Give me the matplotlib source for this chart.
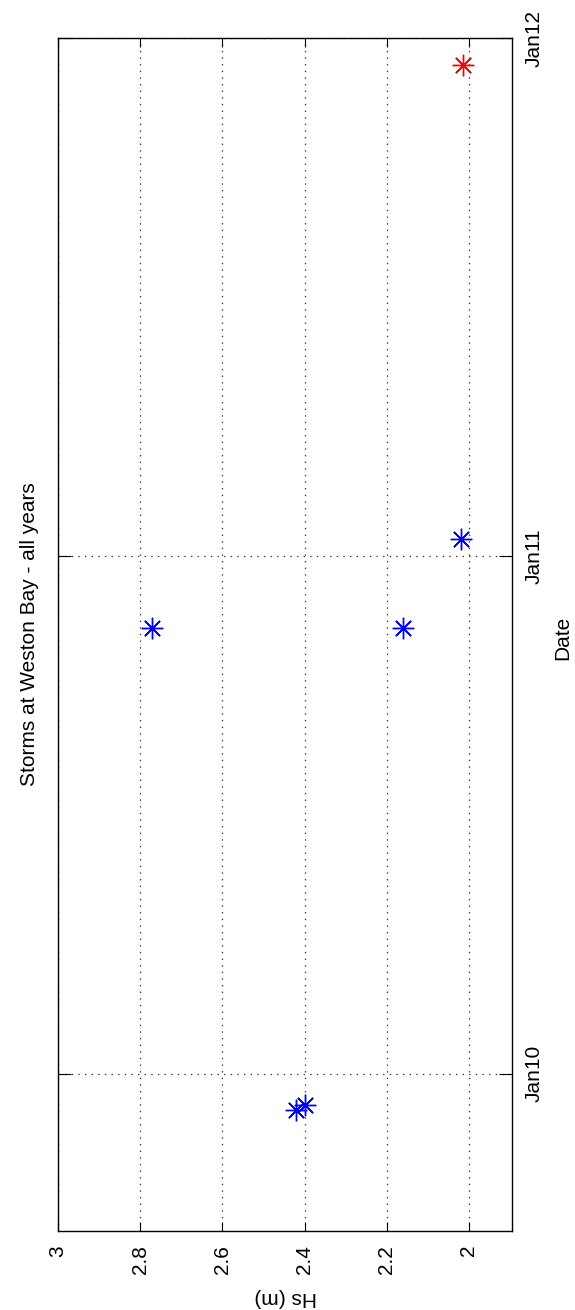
import matplotlib
matplotlib.use('Agg')
import matplotlib.pyplot as plt
import matplotlib.dates as mdates
from datetime import datetime

plt.rcParams['font.family'] = ['Liberation Sans', 'DejaVu Sans']

# ---- data ----
storm_dates = ['2009-12-06', '2009-12-10', '2010-11-11', '2010-11-11', '2011-01-13']
storm_hs = [2.42, 2.40, 2.77, 2.16, 2.02]
latest_dates = ['2011-12-13']
latest_hs = [2.015]
date_ticks = ['2010-01-01', '2011-01-01', '2012-01-01']
date_ticklabels = ['Jan10', 'Jan11', 'Jan12']
hs_ticks = [2.0, 2.2, 2.4, 2.6, 2.8, 3.0]
hs_ticklabels = ['2', '2.2', '2.4', '2.6', '2.8', '3']
date_limits = ['2009-09-12', '2012-01-01']
hs_limits = [3.0, 1.895]

title_text = 'Storms at Weston Bay - all years'
xlabel_text = 'Date'
ylabel_text = 'Hs (m)'

def to_num(lst):
    return [mdates.date2num(datetime.strptime(d, '%Y-%m-%d')) for d in lst]

W, H = 575, 1310
fig = plt.figure(figsize=(W / 100, H / 100), dpi=100)
ax = fig.add_axes([58 / W, 1 - 1231 / H, (512 - 58) / W, (1231 - 38) / H])

star = (8, 2, 0)
ax.plot(storm_hs, to_num(storm_dates), linestyle='none', marker=star,
        markersize=15.5, markeredgewidth=1.0, color=(0, 0, 1))
ax.plot(latest_hs, to_num(latest_dates), linestyle='none', marker=star,
        markersize=15.5, markeredgewidth=1.0, color=(1, 0, 0))

ax.set_xlim(*hs_limits)
ax.set_ylim(*to_num(date_limits))

ax.set_xticks(hs_ticks)
ax.set_xticklabels(hs_ticklabels, rotation=90, fontsize=15)
ax.set_yticks(to_num(date_ticks))
ax.set_yticklabels(date_ticklabels, rotation=90, fontsize=15, va='center')

ax.tick_params(axis='x', direction='in', length=6.5, width=0.8, pad=10,
               top=True, bottom=True)
ax.tick_params(axis='y', direction='in', length=9.4, width=0.8, pad=9,
               left=True, right=True, labelleft=False, labelright=True)

for s in ax.spines.values():
    s.set_linewidth(1.0)
    s.set_color('black')

ax.grid(True, color='0.2', linewidth=0.9, linestyle=(0, (1.1, 4.2)))
ax.set_axisbelow(True)

fig.text(286 / W, 1 - 1297 / H, ylabel_text, rotation=180, fontsize=15,
         ha='center', va='center')
fig.text(563 / W, 1 - 638 / H, xlabel_text, rotation=90, fontsize=15,
         ha='center', va='center')
fig.text(30 / W, 1 - 634 / H, title_text, rotation=90, fontsize=15,
         ha='center', va='center')

fig.savefig('out.png', dpi=100)
